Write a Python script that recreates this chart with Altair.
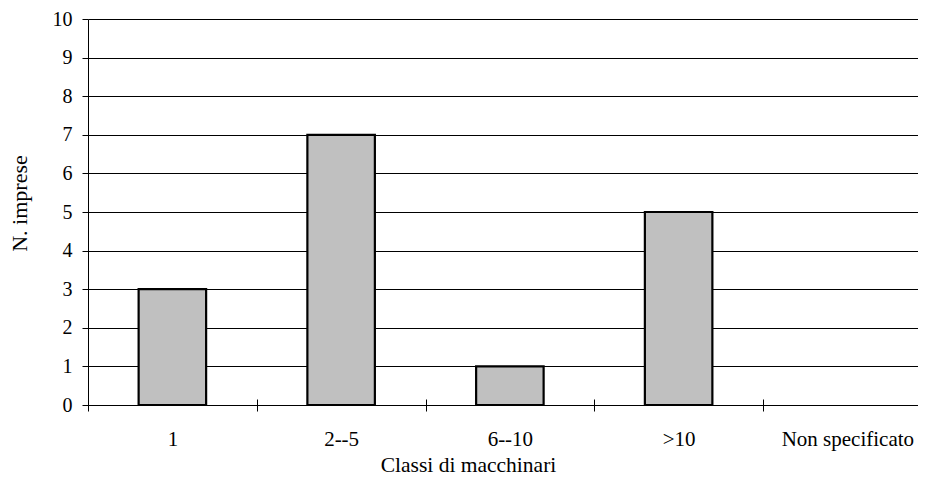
import altair as alt
import pandas as pd

categories = ["1", "2--5", "6--10", ">10", "Non specificato"]
values = [3, 7, 1, 5, 0]
y_ticks = list(range(0, 11))

df = pd.DataFrame({"classe": categories, "imprese": values})

FONT = "'Liberation Serif', 'DejaVu Serif', serif"

bars = alt.Chart(df).transform_filter(
    alt.datum.imprese > 0
).mark_bar(
    fill="#C0C0C0", stroke="black", strokeWidth=2.2,
    width=alt.RelativeBandSize(0.4)
).encode(
    x=alt.X(
        "classe:N",
        sort=categories,
        scale=alt.Scale(domain=categories, range=[0, 843.75], paddingInner=0, paddingOuter=0),
        axis=alt.Axis(
            title="Classi di macchinari",
            labelAngle=0,
            labelFont=FONT, labelFontSize=21, labelColor="black",
            labelBaseline="alphabetic", labelPadding=34,
            tickBand="extent", tickSize=12, tickColor="black", tickWidth=1,
            offset=-6, domain=False, grid=False,
            titleFont=FONT, titleFontSize=21.5, titleFontWeight="normal", titleColor="black",
            titleX=380, titleY=72, titleAlign="center", titleBaseline="alphabetic",
        ),
    ),
    y=alt.Y(
        "imprese:Q",
        scale=alt.Scale(domain=[0, 10], nice=False),
        axis=alt.Axis(
            title="N. imprese",
            values=y_ticks,
            labelFont=FONT, labelFontSize=20, labelColor="black", labelPadding=10,
            tickSize=6, tickColor="black", tickWidth=1,
            domainColor="black", domainWidth=1,
            grid=True, gridColor="black", gridWidth=1, gridOpacity=1,
            titleFont=FONT, titleFontSize=22, titleFontWeight="normal", titleColor="black",
            titleX=-62, titleY=184, titleAngle=270, titleAlign="center", titleBaseline="alphabetic",
        ),
    ),
)

chart = bars.properties(
    width=830, height=386,
    autosize=alt.AutoSizeParams(type="none"),
    padding={"left": 80, "top": 11, "right": 0, "bottom": 70},
    background="white",
).configure_view(stroke=None)

chart.save("out.html", embed_options={"renderer": "svg", "actions": False})
